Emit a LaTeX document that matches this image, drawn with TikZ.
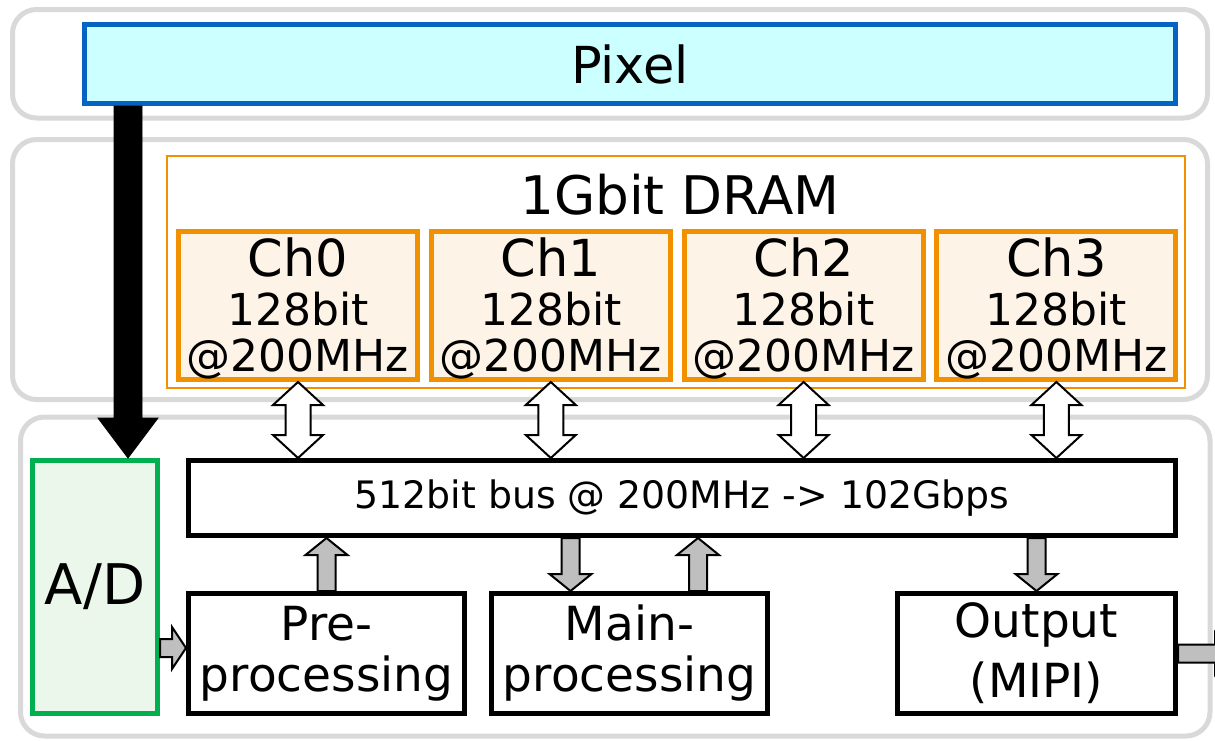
\documentclass[tikz,border=0pt]{standalone}
\usepackage{fontspec}
\setmainfont{DejaVu Sans}
\usepackage{tikz}
\usetikzlibrary{calc}

\definecolor{laygray}{HTML}{D9D9D9}
\definecolor{pixblue}{HTML}{0563C1}
\definecolor{pixfill}{HTML}{CCFFFF}
\definecolor{dramorange}{HTML}{F29100}
\definecolor{chfill}{HTML}{FDF3E6}
\definecolor{adgreen}{HTML}{00B050}
\definecolor{adfill}{HTML}{EBF7EB}
\definecolor{arrowgray}{HTML}{BFBFBF}

% [style]{tail}{tip}{half shaft}{half head}{head length}
\newcommand{\blockarrow}[6][]{%
  \coordinate (ba-t) at (#2);
  \coordinate (ba-p) at (#3);
  \coordinate (ba-n) at ($(ba-p)!#6!(ba-t)$);
  \draw[#1] ($(ba-t)!#4!90:(ba-p)$) -- ($(ba-n)!#4!90:(ba-p)$) -- ($(ba-n)!#5!90:(ba-p)$)
    -- (ba-p) -- ($(ba-n)!#5!-90:(ba-p)$) -- ($(ba-n)!#4!-90:(ba-p)$) -- ($(ba-t)!#4!-90:(ba-p)$) -- cycle;}
% [style]{end a}{end b}{half shaft}{half head}{head length}
\newcommand{\dblockarrow}[6][]{%
  \coordinate (da-a) at (#2);
  \coordinate (da-b) at (#3);
  \coordinate (da-m) at ($(da-a)!#6!(da-b)$);
  \coordinate (da-n) at ($(da-b)!#6!(da-a)$);
  \draw[#1] (da-a) -- ($(da-m)!#5!90:(da-b)$) -- ($(da-m)!#4!90:(da-b)$) -- ($(da-n)!#4!90:(da-b)$)
    -- ($(da-n)!#5!90:(da-b)$) -- (da-b) -- ($(da-n)!#5!-90:(da-b)$) -- ($(da-n)!#4!-90:(da-b)$)
    -- ($(da-m)!#4!-90:(da-b)$) -- ($(da-m)!#5!-90:(da-b)$) -- cycle;}

\begin{document}
\begin{tikzpicture}[
  x=0.5pt, y=-0.5pt,
  layer/.style={draw=laygray, line width=2.5pt, rounded corners=12pt, minimum width=597.5pt},
  box/.style={rectangle, draw=black, line width=2.5pt, align=center, inner sep=0pt},
  pixbox/.style={box, draw=pixblue, fill=pixfill, minimum width=545.5pt, minimum height=39.5pt,
                 font=\fontsize{25.5}{30}\selectfont},
  chbox/.style={box, draw=dramorange, fill=chfill, minimum width=119.5pt, minimum height=74pt,
                font=\fontsize{22}{23}\selectfont},
  adbox/.style={box, draw=adgreen, fill=adfill, minimum width=62.5pt, minimum height=126.5pt,
                font=\fontsize{28}{30}\selectfont},
  busbox/.style={box, minimum width=493.5pt, minimum height=37.5pt, font=\fontsize{18.9}{22}\selectfont},
  procbox/.style={box, minimum width=138pt, minimum height=60pt, font=\fontsize{23.5}{25.5}\selectfont},
  whitearrow/.style={draw=black, line width=1pt, fill=white},
  grayarrow/.style={draw=black, line width=1pt, fill=arrowgray}
]
\useasboundingbox (0,0) rectangle (1215,740);
\clip (0,0) rectangle (1215,740);

\node[layer, minimum height=54.25pt] (pixlayer) at (610,63.75) {};
\node[layer, minimum height=130pt] (dramlayer) at (610,269.5) {};
\node[layer, minimum width=594.75pt, minimum height=159.5pt] (logiclayer) at (615.25,576.5) {};

\node[pixbox] (pixel) at (630,64) {Pixel};

\node[draw=dramorange, line width=1pt, minimum width=509pt, minimum height=116pt] (dram) at (676,272) {};
\node[font=\fontsize{26.6}{30}\selectfont] (dramlabel) at (680,195) {1Gbit DRAM};
\foreach \i in {0,...,3}
  \node[chbox] (ch\i) at (298+252.8*\i,305.5) {{\fontsize{25.5}{25.5}\selectfont\rule{0pt}{22.5pt}Ch\i}\\[1.5pt]128bit\\@200MHz};

\node[adbox] (ad) at (95,587) {A/D};
\node[busbox] (bus) at (682,498) {512bit bus @ 200MHz -> 102Gbps};
\node[procbox] (pre) at (326.5,653.5) {Pre-\\processing};
\node[procbox] (main) at (629.5,653.5) {Main-\\processing};
\node[procbox, minimum width=139pt, font=\fontsize{23.5}{30}\selectfont] (out) at (1036.5,653.5) {Output\\(MIPI)};

\coordinate (adin) at ([xshift=16.5pt]ad.north);
\blockarrow[fill=black]{pixel.south -| adin}{adin}{7pt}{15pt}{20pt}

\foreach \i in {0,...,3} {
  \dblockarrow[whitearrow]{ch\i.south}{ch\i.south |- bus.north}{6.25pt}{12.5pt}{11.5pt}
}

\coordinate (prein) at ([yshift=2.75pt]pre.west);
\blockarrow[grayarrow]{ad.east |- prein}{prein}{4.5pt}{10.5pt}{7pt}
\blockarrow[grayarrow]{pre.north}{pre.north |- bus.south}{4.5pt}{10.5pt}{8.5pt}
\coordinate (mainin) at ([xshift=-29.5pt]main.north);
\blockarrow[grayarrow]{mainin |- bus.south}{mainin}{4.5pt}{10.5pt}{8.5pt}
\coordinate (mainout) at ([xshift=34.25pt]main.north);
\blockarrow[grayarrow]{mainout}{mainout |- bus.south}{4.5pt}{10.5pt}{8.5pt}
\blockarrow[grayarrow]{out.north |- bus.south}{out.north}{4.5pt}{10.5pt}{8.5pt}
\coordinate (mipi) at ([xshift=27pt]out.east);
\blockarrow[grayarrow]{out.east}{mipi}{4.5pt}{10.5pt}{8.5pt}
\end{tikzpicture}
\end{document}
